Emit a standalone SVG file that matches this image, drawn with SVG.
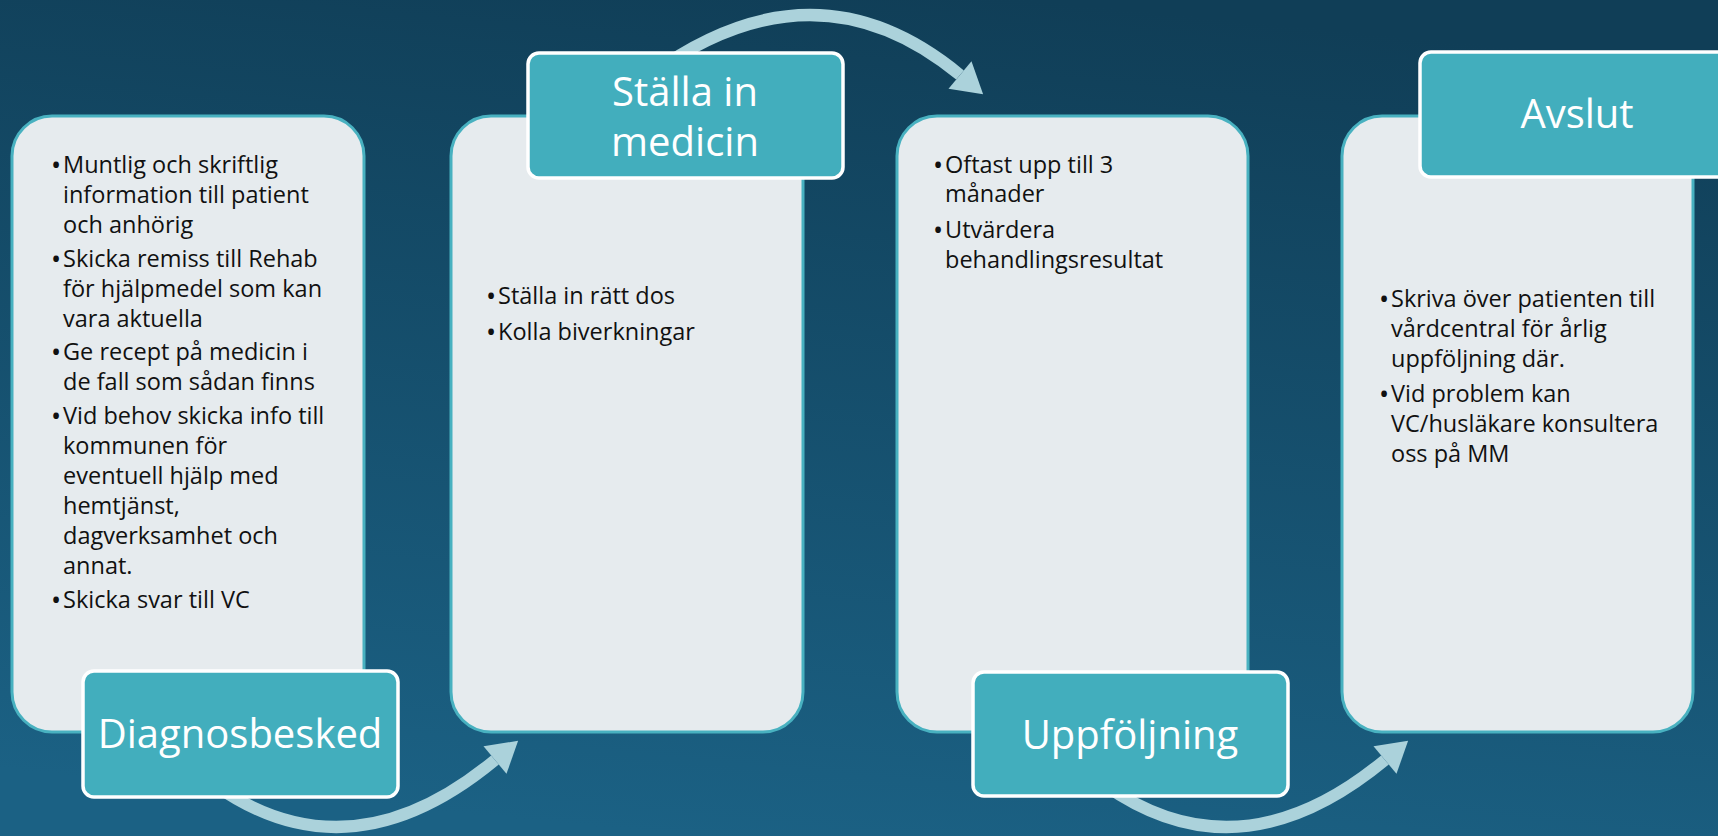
<svg xmlns="http://www.w3.org/2000/svg" width="1718" height="836" viewBox="0 0 1718 836">
<defs>
<linearGradient id="bg" x1="0.6" y1="0" x2="0.4" y2="1">
<stop offset="0" stop-color="#103E57"/>
<stop offset="1" stop-color="#1B6184"/>
</linearGradient>
<marker id="head" markerUnits="userSpaceOnUse" markerWidth="40" markerHeight="44" viewBox="-1 -22 34 44" refX="0" refY="0" orient="auto">
<path d="M0,-18 L30,0 L0,18 z" fill="#ABD2DB"/>
</marker>
<style>
.card{fill:#E6EBEE;stroke:#48B1C0;stroke-width:3}
.label{fill:#42AEBD;stroke:#FFFFFF;stroke-width:3.5}
.lt{font-family:"Open Sans","Noto Sans",sans-serif;font-size:40px;fill:#FFFFFF;text-anchor:middle}
.bt{font-family:"Open Sans","Noto Sans",sans-serif;font-size:23.5px;fill:#111111}
.b{font-size:27px}
.arc{fill:none;stroke:#ABD2DB;stroke-width:12;marker-end:url(#head)}
</style>
</defs>
<rect x="0" y="0" width="1718" height="836" fill="url(#bg)"/>
<g id="connectors">
<path class="arc" d="M650,75 Q815,-45 960,75"/>
<path class="arc" d="M215,785 Q350,880 495,760"/>
<path class="arc" d="M1105,785 Q1240,880 1385,760"/>
</g>
<g id="node-diagnosbesked">
<rect class="card" x="12" y="116" width="352" height="616" rx="40"/>
<text class="bt">
<tspan class="b" x="51" y="175">•</tspan><tspan x="63" y="173">Muntlig och skriftlig</tspan>
<tspan x="63" y="203">information till patient</tspan>
<tspan x="63" y="233">och anhörig</tspan>
<tspan class="b" x="51" y="269">•</tspan><tspan x="63" y="267">Skicka remiss till Rehab</tspan>
<tspan x="63" y="297">för hjälpmedel som kan</tspan>
<tspan x="63" y="327">vara aktuella</tspan>
<tspan class="b" x="51" y="362">•</tspan><tspan x="63" y="360">Ge recept på medicin i</tspan>
<tspan x="63" y="390">de fall som sådan finns</tspan>
<tspan class="b" x="51" y="426">•</tspan><tspan x="63" y="424">Vid behov skicka info till</tspan>
<tspan x="63" y="454">kommunen för</tspan>
<tspan x="63" y="484">eventuell hjälp med</tspan>
<tspan x="63" y="514">hemtjänst,</tspan>
<tspan x="63" y="544">dagverksamhet och</tspan>
<tspan x="63" y="574">annat.</tspan>
<tspan class="b" x="51" y="610">•</tspan><tspan x="63" y="608">Skicka svar till VC</tspan>
</text>
<rect class="label" x="83" y="671" width="315" height="126" rx="11"/>
<text class="lt" x="240" y="748">Diagnosbesked</text>
</g>
<g id="node-stalla">
<rect class="card" x="451" y="116" width="352" height="616" rx="40"/>
<text class="bt">
<tspan class="b" x="486" y="306">•</tspan><tspan x="498" y="304">Ställa in rätt dos</tspan>
<tspan class="b" x="486" y="342">•</tspan><tspan x="498" y="340">Kolla biverkningar</tspan>
</text>
<rect class="label" x="528" y="53" width="315" height="125" rx="11"/>
<text class="lt" x="685" y="106">Ställa in</text>
<text class="lt" x="685" y="156">medicin</text>
</g>
<g id="node-uppfoljning">
<rect class="card" x="897" y="116" width="351" height="616" rx="40"/>
<text class="bt">
<tspan class="b" x="933" y="175">•</tspan><tspan x="945" y="173">Oftast upp till 3</tspan>
<tspan x="945" y="202">månader</tspan>
<tspan class="b" x="933" y="240">•</tspan><tspan x="945" y="238">Utvärdera</tspan>
<tspan x="945" y="268">behandlingsresultat</tspan>
</text>
<rect class="label" x="973" y="672" width="315" height="124" rx="11"/>
<text class="lt" x="1130" y="749">Uppföljning</text>
</g>
<g id="node-avslut">
<rect class="card" x="1342" y="116" width="351" height="616" rx="40"/>
<text class="bt">
<tspan class="b" x="1379" y="309">•</tspan><tspan x="1391" y="307">Skriva över patienten till</tspan>
<tspan x="1391" y="337">vårdcentral för årlig</tspan>
<tspan x="1391" y="367">uppföljning där.</tspan>
<tspan class="b" x="1379" y="404">•</tspan><tspan x="1391" y="402">Vid problem kan</tspan>
<tspan x="1391" y="432">VC/husläkare konsultera</tspan>
<tspan x="1391" y="462">oss på MM</tspan>
</text>
<rect class="label" x="1420" y="52" width="315" height="125" rx="11"/>
<text class="lt" x="1577" y="128">Avslut</text>
</g>
</svg>
